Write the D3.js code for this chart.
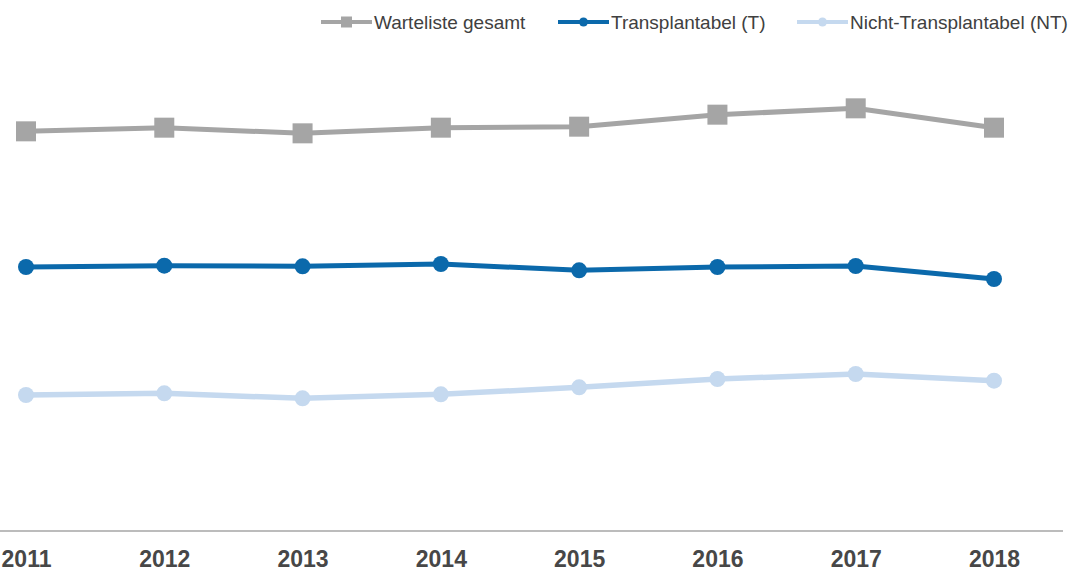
<!DOCTYPE html>
<html>
<head>
<meta charset="utf-8">
<script src="https://cdn.jsdelivr.net/npm/d3@7"></script>
<style>
  html, body { margin: 0; padding: 0; background: #fff; }
  svg { display: block; font-family: "Liberation Sans", Arial, sans-serif; }
</style>
</head>
<body>
<svg id="chart" width="1076" height="572"></svg>
<script>
// values (no y axis shown, scale is approximate)
const years = ['2011', '2012', '2013', '2014', '2015', '2016', '2017', '2018'];
const gesamt = [11990, 12100, 11930, 12100, 12130, 12490, 12680, 12100];
const transplantabel = [7920, 7960, 7940, 8010, 7820, 7920, 7950, 7560];
const nichtTransplantabel = [4080, 4130, 3980, 4100, 4310, 4560, 4710, 4510];

const series = [
  { name: 'Warteliste gesamt', values: gesamt, color: '#a5a5a5', marker: 'square', lw: 5 },
  { name: 'Transplantabel (T)', values: transplantabel, color: '#0b69ab', marker: 'circle', lw: 5 },
  { name: 'Nicht-Transplantabel (NT)', values: nichtTransplantabel, color: '#c5d9ef', marker: 'circle', lw: 5.5 }
];

const svg = d3.select('#chart');
const baseY = 531;

const x = d3.scalePoint().domain(years).range([26, 994]);
const y = d3.scaleLinear().domain([0, 15000]).range([baseY, 31]);

// baseline
svg.append('line')
  .attr('x1', 0).attr('x2', 1063)
  .attr('y1', baseY).attr('y2', baseY)
  .attr('stroke', '#a6a6a6').attr('stroke-width', 1.5);

// year labels
const xAxis = svg.append('g')
  .attr('transform', `translate(0,${baseY})`)
  .call(d3.axisBottom(x).tickSize(0).tickPadding(20));
xAxis.select('.domain').remove();
xAxis.selectAll('text')
  .attr('font-family', '"Liberation Sans", Arial, sans-serif')
  .attr('font-size', 23).attr('font-weight', 'bold').attr('fill', '#474747');

const line = d3.line().x((d, i) => x(years[i])).y(d => y(d));

series.forEach(s => {
  const g = svg.append('g');
  g.append('path')
    .attr('d', line(s.values))
    .attr('fill', 'none').attr('stroke', s.color)
    .attr('stroke-width', s.lw).attr('stroke-linejoin', 'round');
  if (s.marker === 'square') {
    g.selectAll('rect').data(s.values).join('rect')
      .attr('x', (d, i) => x(years[i]) - 10).attr('y', d => y(d) - 10)
      .attr('width', 20).attr('height', 20).attr('fill', s.color);
  } else {
    g.selectAll('circle').data(s.values).join('circle')
      .attr('cx', (d, i) => x(years[i])).attr('cy', d => y(d))
      .attr('r', 8).attr('fill', s.color);
  }
});

// legend
const legendPos = [321, 558, 797];
const legend = svg.append('g').attr('transform', 'translate(0,22)');
series.forEach((s, i) => {
  const lx = legendPos[i];
  const item = legend.append('g').attr('transform', `translate(${lx},0)`);
  item.append('line').attr('x1', 0).attr('x2', 51).attr('y1', 0).attr('y2', 0)
    .attr('stroke', s.color).attr('stroke-width', 4);
  if (s.marker === 'square') {
    item.append('rect').attr('x', 20).attr('y', -5.5).attr('width', 11).attr('height', 11).attr('fill', s.color);
  } else {
    item.append('circle').attr('cx', 25.5).attr('cy', 0).attr('r', 4.5).attr('fill', s.color);
  }
  item.append('text').attr('x', 53).attr('y', 6.5)
    .attr('font-size', 19).attr('fill', '#404040').text(s.name);
});
</script>
</body>
</html>
